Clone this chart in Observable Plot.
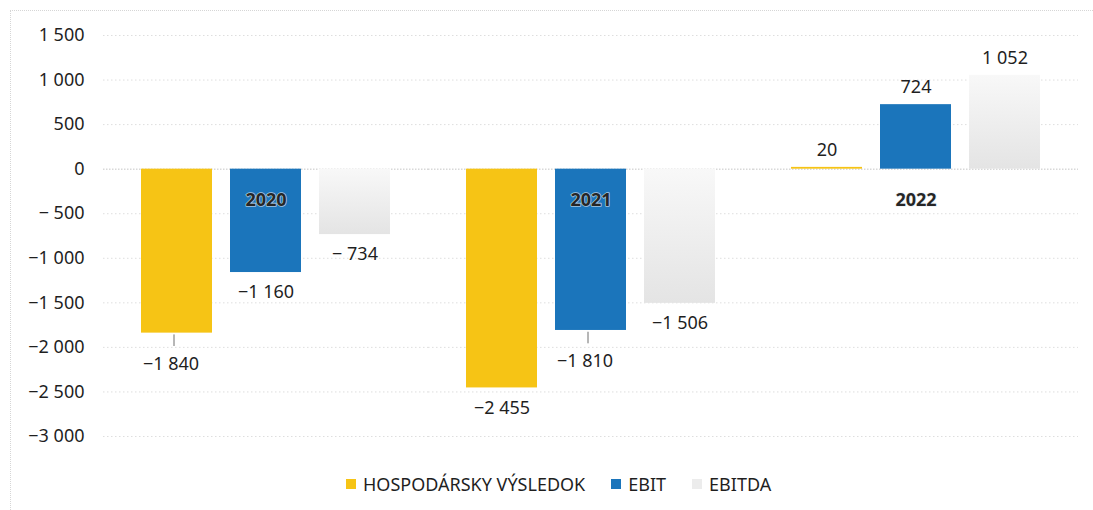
<!DOCTYPE html>
<html>
<head>
<meta charset="utf-8">
<script src="https://cdn.jsdelivr.net/npm/d3@7"></script>
<script src="https://cdn.jsdelivr.net/npm/@observablehq/plot@0.6"></script>
<style>
  html, body { margin: 0; padding: 0; background: #fff; }
  body { width: 1093px; height: 510px; position: relative; overflow: hidden; font-family: "Noto Sans", sans-serif; }
  #frame { position: absolute; left: 10px; top: 10px; width: 1083px; height: 500px;
           border-left: 1px dotted #d6d6d6; border-top: 1px dotted #d6d6d6; box-sizing: border-box; pointer-events: none; }
  #chart { position: absolute; left: 0; top: 0; }
  #legend { position: absolute; left: 346px; top: 472px; display: flex; align-items: center;
            font-size: 18px; color: #1f1f1f; white-space: nowrap; }
  .item { display: flex; align-items: center; margin-right: 26px; }
  .sw { width: 10px; height: 10px; margin-right: 7px; }
</style>
</head>
<body>
<div id="chart"></div>
<div id="legend"></div>
<div id="frame"></div>
<script>
const years = ["2020", "2021", "2022"];
const series = ["HOSPODÁRSKY VÝSLEDOK", "EBIT", "EBITDA"];
const hospodarskyVysledok = [-1840, -2455, 20];
const ebit = [-1160, -1810, 724];
const ebitda = [-734, -1506, 1052];
const yTickValues = [1500, 1000, 500, 0, -500, -1000, -1500, -2000, -2500, -3000];
const yTickLabels = ["1 500", "1 000", "500", "0", "− 500", "−1 000", "−1 500", "−2 000", "−2 500", "−3 000"];
// labels pulled away from their bars with a leader line: [year, series]
const movedLabels = [["2020", "HOSPODÁRSKY VÝSLEDOK"], ["2021", "EBIT"]];

const seriesColors = ["#f6c415", "#1b75bb", "url(#ebitdaGrad)"];
const legendColors = ["#f6c415", "#1b75bb", "#ececec"];

const valuesBySeries = [hospodarskyVysledok, ebit, ebitda];
const data = [];
years.forEach((yr, i) => series.forEach((s, j) => {
  data.push({year: yr, series: s, value: valuesBySeries[j][i],
    moved: movedLabels.some(([a, b]) => a === yr && b === s)});
}));

const grp = d3.format(",");
const fmtNum = v => {
  const a = grp(Math.abs(v)).replace(/,/g, " ");
  if (v < 0) return (Math.abs(v) < 1000 ? "− " : "−") + a;
  return a;
};

const neg = data.filter(d => d.value < 0 && !d.moved);
const pos = data.filter(d => d.value >= 0);
const moved = data.filter(d => d.moved);
const yearLabels = years.map(y => ({year: y, series: "EBIT"}));

const plot = Plot.plot({
  width: 1093,
  height: 460,
  marginLeft: 102,
  marginRight: 15,
  marginTop: 35,
  marginBottom: 24,
  style: {fontFamily: "Noto Sans", fontSize: "18px", color: "#1f1f1f", background: "transparent"},
  fx: {domain: years, padding: 0, axis: null},
  x: {domain: series, paddingInner: 0.2, paddingOuter: 0.41, axis: null},
  y: {domain: [-3000, 1500], axis: null},
  color: {domain: series, range: seriesColors},
  marks: [
    Plot.gridY(yTickValues.filter(v => v !== 0), {stroke: "#dedede", strokeOpacity: 1, strokeDasharray: "1.5,2.5"}),
    Plot.ruleY([0], {stroke: "#c4c4c4", strokeDasharray: "1.5,1.5"}),
    Plot.axisY(yTickValues, {label: null, tickSize: 0, tickPadding: 19, fontSize: 18, fill: "#1f1f1f",
      tickFormat: v => yTickLabels[yTickValues.indexOf(v)]}),
    Plot.barY(data, {fx: "year", x: "series", y: "value", fill: "series"}),
    Plot.text(neg, {fx: "year", x: "series", y: "value", text: d => fmtNum(d.value), dy: 20, fill: "#1f1f1f", fontSize: 18}),
    Plot.text(pos, {fx: "year", x: "series", y: "value", text: d => fmtNum(d.value), dy: -17, fill: "#1f1f1f", fontSize: 18}),
    Plot.ruleX(moved, {fx: "year", x: "series", y1: d => d.value - 20, y2: d => d.value - 150, stroke: "#6f6f6f", strokeWidth: 1, dx: -3}),
    Plot.text(moved, {fx: "year", x: "series", y: "value", text: d => fmtNum(d.value), dy: 31, dx: -6, fill: "#1f1f1f", fontSize: 18}),
    Plot.text(yearLabels, {fx: "year", x: "series", y: () => 0, text: "year", dy: 31, fontWeight: "bold", fontSize: 18,
      fill: "#262626", stroke: "#e6edf3", strokeWidth: 1.6, strokeOpacity: 0.7})
  ]
});

const defs = d3.select(plot).insert("defs", ":first-child");
const g = defs.append("linearGradient").attr("id", "ebitdaGrad").attr("x1", 0).attr("y1", 0).attr("x2", 0).attr("y2", 1);
g.append("stop").attr("offset", "0%").attr("stop-color", "#f8f8f8");
g.append("stop").attr("offset", "100%").attr("stop-color", "#e4e4e4");

document.getElementById("chart").appendChild(plot);

const legend = document.getElementById("legend");
series.forEach((s, i) => {
  const it = document.createElement("div");
  it.className = "item";
  const sw = document.createElement("span");
  sw.className = "sw";
  sw.style.background = legendColors[i];
  const tx = document.createElement("span");
  tx.textContent = s;
  it.appendChild(sw); it.appendChild(tx);
  legend.appendChild(it);
});
</script>
</body>
</html>
